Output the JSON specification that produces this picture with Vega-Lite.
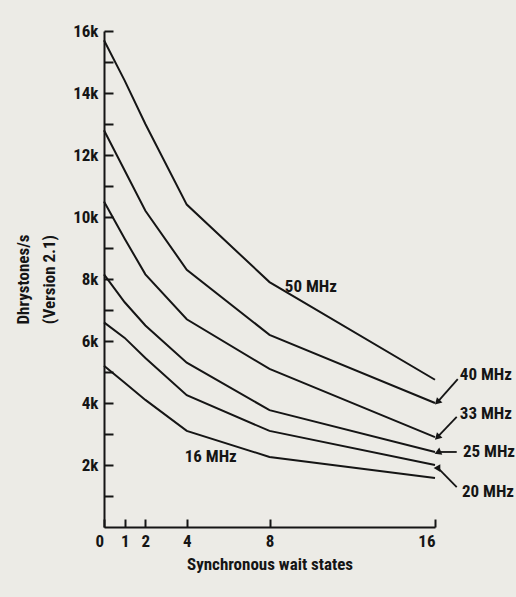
{
  "$schema": "https://vega.github.io/schema/vega-lite/v6.json",
  "autosize": {"type": "none"},
  "width": 331,
  "height": 496,
  "padding": {"left": 104, "top": 31, "right": 81, "bottom": 70},
  "background": "#ecebe6",
  "config": {
    "view": {"stroke": null},
    "font": "Roboto Condensed, Roboto, sans-serif",
    "axis": {
      "grid": false,
      "domainColor": "#151515",
      "domainWidth": 2,
      "tickColor": "#151515",
      "tickWidth": 2,
      "labelFont": "Roboto Condensed, Roboto, sans-serif",
      "labelFontWeight": "bold",
      "labelColor": "#151515",
      "titleFont": "Roboto Condensed, Roboto, sans-serif",
      "titleFontWeight": "bold",
      "titleColor": "#151515"
    }
  },
  "datasets": {
    "curves": [
      {"clock": "50 MHz", "wait": 0, "dps": 15700},
      {"clock": "50 MHz", "wait": 1, "dps": 14400},
      {"clock": "50 MHz", "wait": 2, "dps": 13000},
      {"clock": "50 MHz", "wait": 4, "dps": 10400},
      {"clock": "50 MHz", "wait": 8, "dps": 7900},
      {"clock": "50 MHz", "wait": 16, "dps": 4750},
      {"clock": "40 MHz", "wait": 0, "dps": 12800},
      {"clock": "40 MHz", "wait": 1, "dps": 11500},
      {"clock": "40 MHz", "wait": 2, "dps": 10200},
      {"clock": "40 MHz", "wait": 4, "dps": 8300},
      {"clock": "40 MHz", "wait": 8, "dps": 6200},
      {"clock": "40 MHz", "wait": 16, "dps": 4000},
      {"clock": "33 MHz", "wait": 0, "dps": 10500},
      {"clock": "33 MHz", "wait": 1, "dps": 9300},
      {"clock": "33 MHz", "wait": 2, "dps": 8150},
      {"clock": "33 MHz", "wait": 4, "dps": 6700},
      {"clock": "33 MHz", "wait": 8, "dps": 5100},
      {"clock": "33 MHz", "wait": 16, "dps": 2900},
      {"clock": "25 MHz", "wait": 0, "dps": 8150},
      {"clock": "25 MHz", "wait": 1, "dps": 7250},
      {"clock": "25 MHz", "wait": 2, "dps": 6500},
      {"clock": "25 MHz", "wait": 4, "dps": 5300},
      {"clock": "25 MHz", "wait": 8, "dps": 3770},
      {"clock": "25 MHz", "wait": 16, "dps": 2420},
      {"clock": "20 MHz", "wait": 0, "dps": 6600},
      {"clock": "20 MHz", "wait": 1, "dps": 6100},
      {"clock": "20 MHz", "wait": 2, "dps": 5450},
      {"clock": "20 MHz", "wait": 4, "dps": 4250},
      {"clock": "20 MHz", "wait": 8, "dps": 3100},
      {"clock": "20 MHz", "wait": 16, "dps": 2000},
      {"clock": "16 MHz", "wait": 0, "dps": 5200},
      {"clock": "16 MHz", "wait": 1, "dps": 4650},
      {"clock": "16 MHz", "wait": 2, "dps": 4100},
      {"clock": "16 MHz", "wait": 4, "dps": 3100},
      {"clock": "16 MHz", "wait": 8, "dps": 2260},
      {"clock": "16 MHz", "wait": 16, "dps": 1580}
    ],
    "labels": [
      {"label": "50 MHz", "wait": 8.74, "dps": 7740},
      {"label": "40 MHz", "wait": 17.2, "dps": 4900},
      {"label": "33 MHz", "wait": 17.2, "dps": 3650},
      {"label": "25 MHz", "wait": 17.35, "dps": 2420},
      {"label": "20 MHz", "wait": 17.3, "dps": 1130},
      {"label": "16 MHz", "wait": 3.9, "dps": 2260}
    ],
    "arrows": [
      {"clock": "40 MHz", "wait": 17.1, "dps": 4770, "wait2": 16.15, "dps2": 4050, "dir": "down-left"},
      {"clock": "33 MHz", "wait": 17.05, "dps": 3550, "wait2": 16.15, "dps2": 2920, "dir": "down-left"},
      {"clock": "25 MHz", "wait": 17.05, "dps": 2420, "wait2": 16.18, "dps2": 2420, "dir": "left"},
      {"clock": "20 MHz", "wait": 17.05, "dps": 1290, "wait2": 16.15, "dps2": 1900, "dir": "up-left"}
    ]
  },
  "encoding": {
    "x": {
      "field": "wait",
      "type": "quantitative",
      "scale": {"domain": [0, 16], "nice": false, "zero": false},
      "axis": {
        "title": "Synchronous wait states",
        "titleFontSize": 17,
        "titlePadding": 7,
        "values": [0, 1, 2, 4, 8, 16],
        "format": "d",
        "tickSize": -8,
        "labelPadding": 14,
        "labelFontSize": 17,
        "labelOffset": {"condition": {"test": "datum.value == 0", "value": -9}, "value": 0}
      }
    },
    "y": {
      "field": "dps",
      "type": "quantitative",
      "scale": {"domain": [0, 16000], "nice": false},
      "axis": {
        "title": ["Dhrystones/s", "(Version 2.1)"],
        "titleFontSize": 17,
        "titleLineHeight": 26,
        "titlePadding": 14,
        "values": [1000, 2000, 3000, 4000, 5000, 6000, 7000, 8000, 9000, 10000, 11000, 12000, 13000, 14000, 15000, 16000],
        "labelExpr": "datum.value % 2000 === 0 ? (datum.value / 1000) + 'k' : ''",
        "tickSize": -9,
        "labelPadding": 15,
        "labelFontSize": 17
      }
    }
  },
  "layer": [
    {
      "data": {"name": "curves"},
      "mark": {"type": "line", "color": "#151515", "strokeWidth": 2},
      "encoding": {"detail": {"field": "clock"}}
    },
    {
      "data": {"name": "arrows"},
      "mark": {"type": "rule", "color": "#151515", "strokeWidth": 1.8},
      "encoding": {
        "x2": {"field": "wait2"},
        "y2": {"field": "dps2"}
      }
    },
    {
      "data": {"name": "arrows"},
      "mark": {"type": "point", "shape": "triangle", "filled": true, "color": "#151515", "size": 60, "opacity": 1},
      "encoding": {
        "x": {"field": "wait2", "type": "quantitative"},
        "y": {"field": "dps2", "type": "quantitative"},
        "angle": {
          "field": "dir",
          "type": "nominal",
          "scale": {"domain": ["down-left", "left", "up-left"], "range": [225, 270, 315]},
          "legend": null
        }
      }
    },
    {
      "data": {"name": "labels"},
      "mark": {"type": "text", "align": "left", "baseline": "middle", "fontSize": 17, "fontWeight": "bold", "color": "#151515"},
      "encoding": {"text": {"field": "label"}}
    }
  ]
}
